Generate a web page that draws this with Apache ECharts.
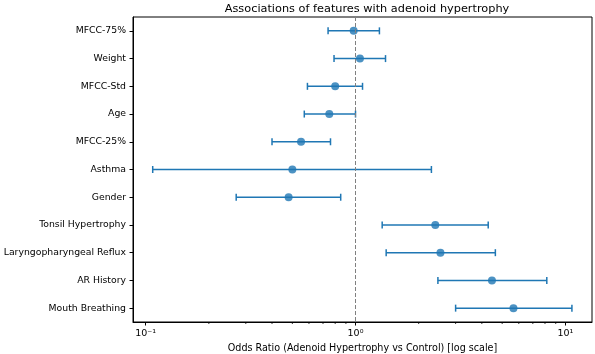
<!DOCTYPE html>
<html>
<head>
<meta charset="utf-8">
<script src="https://cdn.jsdelivr.net/npm/echarts@6/dist/echarts.min.js"></script>
<style>html,body{margin:0;padding:0;background:#fff}#c{width:595px;height:354px}</style>
</head>
<body>
<div id="c"></div>
<script>
var categories = ['MFCC-75%','Weight','MFCC-Std','Age','MFCC-25%','Asthma','Gender','Tonsil Hypertrophy','Laryngopharyngeal Reflux','AR History','Mouth Breathing'];
var oddsRatio = [0.98, 1.05, 0.80, 0.75, 0.55, 0.50, 0.48, 2.40, 2.54, 4.47, 5.66];
var ciLower  = [0.74, 0.79, 0.59, 0.57, 0.40, 0.108, 0.27, 1.34, 1.40, 2.47, 3.00];
var ciUpper  = [1.30, 1.39, 1.08, 1.00, 0.76, 2.30, 0.85, 4.29, 4.64, 8.16, 10.75];
var majorTicks = [0.1, 1, 10];
var minorTicks = [0.2,0.3,0.4,0.5,0.6,0.7,0.8,0.9,2,3,4,5,6,7,8,9];
var xMin = 0.087, xMax = 13.4;

var supers = {'-1':'10\u207B\u00B9','0':'10\u2070','1':'10\u00B9'};
var font = 'DejaVu Sans';
var blue = '#1f77b4';

var chart = echarts.init(document.getElementById('c'), null, {renderer:'canvas'});
chart.setOption({
  animation: false,
  title: {
    text: 'Associations of features with adenoid hypertrophy',
    left: 362, top: -1, textAlign: 'center',
    textStyle: {fontFamily: font, fontSize: 11.3, fontWeight: 'normal', color: '#000'}
  },
  grid: {left: 133, right: 3, top: 17, bottom: 32, show: true, borderColor: '#000', borderWidth: 1,
         backgroundColor: 'transparent', outerBoundsMode: 'none', containLabel: false},
  xAxis: {
    type: 'log', min: xMin, max: xMax,
    name: 'Odds Ratio (Adenoid Hypertrophy vs Control) [log scale]',
    nameLocation: 'middle', nameGap: 19,
    nameTextStyle: {fontFamily: font, fontSize: 9.6, color: '#000'},
    axisLine: {show: true, lineStyle: {color: '#000', width: 1}},
    axisTick: {show: true, length: 3.5, lineStyle: {color: '#000'}},
    splitLine: {show: false},
    axisLabel: {
      showMinLabel: false, showMaxLabel: false,
      fontFamily: font, fontSize: 9.5, color: '#000', margin: 7,
      formatter: function(v){ var e = Math.round(Math.log10(v)); return supers[String(e)] || ''; }
    }
  },
  yAxis: {
    type: 'category', data: categories, inverse: true,
    axisLine: {show: true, lineStyle: {color: '#000', width: 1}},
    axisTick: {show: true, length: 3.5, alignWithLabel: true, lineStyle: {color: '#000'}},
    axisLabel: {fontFamily: font, fontSize: 9.3, color: '#000', margin: 7},
    splitLine: {show: false}
  },
  series: [
    {
      type: 'custom',
      name: 'ci',
      data: categories.map(function(c, i){ return [ciLower[i], ciUpper[i], i]; }),
      encode: {x: [0, 1], y: 2},
      renderItem: function(params, api){
        var cat = api.value(2);
        var p1 = api.coord([api.value(0), cat]);
        var p2 = api.coord([api.value(1), cat]);
        var h = 3.5;
        var st = {stroke: blue, lineWidth: 1.5};
        return {type: 'group', children: [
          {type: 'line', shape: {x1: p1[0], y1: p1[1], x2: p2[0], y2: p2[1]}, style: st},
          {type: 'line', shape: {x1: p1[0], y1: p1[1]-h, x2: p1[0], y2: p1[1]+h}, style: st},
          {type: 'line', shape: {x1: p2[0], y1: p2[1]-h, x2: p2[0], y2: p2[1]+h}, style: st}
        ]};
      },
      z: 2
    },
    {
      type: 'scatter',
      data: categories.map(function(c, i){ return [oddsRatio[i], i]; }),
      symbol: 'circle', symbolSize: 8,
      itemStyle: {color: blue},
      z: 3,
      markLine: {
        silent: true, symbol: 'none',
        label: {show: false},
        lineStyle: {color: '#808080', type: [4, 2], width: 1},
        data: [{xAxis: 1}]
      }
    },
    {
      type: 'custom',
      name: 'minor',
      data: minorTicks.map(function(v){ return [v]; }),
      encode: {x: 0},
      clip: false,
      renderItem: function(params, api){
        var p = api.coord([api.value(0), 0]);
        var bottom = params.coordSys.y + params.coordSys.height;
        return {type: 'line', shape: {x1: p[0], y1: bottom, x2: p[0], y2: bottom + 2}, style: {stroke: '#000', lineWidth: 0.8}};
      },
      z: 1
    }
  ]
});
</script>
</body>
</html>
